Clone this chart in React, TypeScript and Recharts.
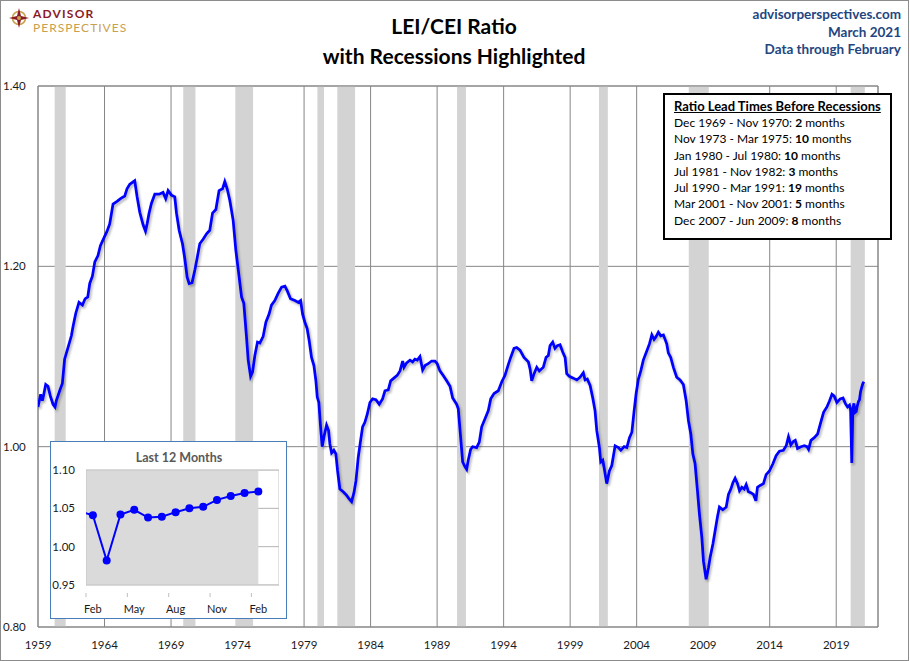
import { LineChart, Line, XAxis, YAxis, CartesianGrid, ReferenceArea } from "recharts"

const FONT = "Lato, 'Open Sans', sans-serif"
const NAVY = "#23467f"

// main chart axes
const yearTicks = [1959, 1964, 1969, 1974, 1979, 1984, 1989, 1994, 1999, 2004, 2009, 2014, 2019]
const yearDomain = [1959, 2022.14]
const ratioTicks = [0.8, 1.0, 1.2, 1.4]

// NBER recessions, [start, end] in decimal years
const recessions: [number, number][] = [
  [1960.25, 1961.083],
  [1969.917, 1970.833],
  [1973.833, 1975.167],
  [1980.0, 1980.5],
  [1981.5, 1982.833],
  [1990.5, 1991.167],
  [2001.167, 2001.833],
  [2007.917, 2009.417],
  [2020.083, 2021.15],
]

// LEI/CEI ratio, [decimal year, ratio]
const ratioSeries: [number, number][] = [
  [1959.0, 1.044], [1959.2, 1.058], [1959.33, 1.051], [1959.42, 1.057], [1959.58, 1.069],
  [1959.75, 1.067], [1959.93, 1.056], [1960.13, 1.047], [1960.28, 1.044], [1960.38, 1.051],
  [1960.63, 1.062], [1960.83, 1.07], [1961.0, 1.097], [1961.26, 1.11], [1961.51, 1.123],
  [1961.63, 1.133], [1961.84, 1.148], [1962.08, 1.16], [1962.34, 1.157], [1962.54, 1.164],
  [1962.74, 1.166], [1962.89, 1.181], [1963.09, 1.189], [1963.27, 1.205], [1963.51, 1.212],
  [1963.69, 1.223], [1963.94, 1.231], [1964.19, 1.239], [1964.39, 1.247], [1964.64, 1.269],
  [1964.94, 1.272], [1965.2, 1.275], [1965.52, 1.278], [1965.69, 1.286], [1965.9, 1.291],
  [1966.27, 1.295], [1966.45, 1.277], [1966.65, 1.26], [1966.9, 1.246], [1967.08, 1.239],
  [1967.2, 1.247], [1967.35, 1.259], [1967.53, 1.27], [1967.78, 1.28], [1968.1, 1.28],
  [1968.4, 1.282], [1968.6, 1.275], [1968.78, 1.284], [1969.03, 1.279], [1969.28, 1.277],
  [1969.41, 1.259], [1969.61, 1.24], [1969.86, 1.225], [1970.03, 1.209], [1970.21, 1.188],
  [1970.36, 1.181], [1970.58, 1.182], [1970.79, 1.196], [1970.96, 1.209], [1971.16, 1.225],
  [1971.41, 1.23], [1971.67, 1.236], [1971.91, 1.24], [1972.12, 1.259], [1972.37, 1.263],
  [1972.61, 1.284], [1972.87, 1.286], [1973.04, 1.294], [1973.22, 1.286], [1973.42, 1.273],
  [1973.67, 1.251], [1973.87, 1.218], [1974.12, 1.188], [1974.3, 1.166], [1974.47, 1.159],
  [1974.67, 1.122], [1974.8, 1.096], [1974.98, 1.078], [1975.13, 1.083], [1975.3, 1.101],
  [1975.5, 1.116], [1975.68, 1.115], [1975.92, 1.122], [1976.13, 1.138], [1976.37, 1.147],
  [1976.55, 1.157], [1976.8, 1.162], [1977.05, 1.17], [1977.31, 1.177], [1977.56, 1.178],
  [1977.73, 1.173], [1977.98, 1.164], [1978.31, 1.162], [1978.56, 1.16], [1978.74, 1.162],
  [1978.89, 1.147], [1979.06, 1.138], [1979.23, 1.131], [1979.38, 1.118], [1979.56, 1.099],
  [1979.74, 1.09], [1979.89, 1.073], [1979.99, 1.055], [1980.11, 1.049], [1980.24, 1.022],
  [1980.36, 1.0], [1980.51, 1.012], [1980.69, 1.024], [1980.84, 1.018], [1980.94, 1.003],
  [1981.07, 0.993], [1981.24, 0.996], [1981.39, 0.992], [1981.52, 0.973], [1981.69, 0.953],
  [1981.94, 0.95], [1982.2, 0.946], [1982.39, 0.942], [1982.57, 0.939], [1982.75, 0.949],
  [1982.9, 0.962], [1983.07, 0.988], [1983.25, 1.007], [1983.4, 1.022], [1983.57, 1.027],
  [1983.75, 1.036], [1983.95, 1.049], [1984.15, 1.053], [1984.4, 1.052], [1984.65, 1.047],
  [1984.9, 1.053], [1985.08, 1.062], [1985.33, 1.063], [1985.51, 1.073], [1985.75, 1.076],
  [1986.0, 1.079], [1986.21, 1.084], [1986.41, 1.095], [1986.51, 1.088], [1986.71, 1.093],
  [1986.96, 1.096], [1987.16, 1.094], [1987.33, 1.097], [1987.51, 1.096], [1987.71, 1.1],
  [1987.91, 1.085], [1988.09, 1.09], [1988.33, 1.092], [1988.59, 1.095], [1988.84, 1.095],
  [1989.01, 1.092], [1989.21, 1.084], [1989.46, 1.079], [1989.72, 1.073], [1989.97, 1.067],
  [1990.17, 1.054], [1990.47, 1.047], [1990.59, 1.042], [1990.77, 1.01], [1990.92, 0.983],
  [1991.09, 0.978], [1991.22, 0.975], [1991.34, 0.985], [1991.52, 0.997], [1991.67, 1.0],
  [1991.97, 0.999], [1992.17, 1.005], [1992.35, 1.022], [1992.6, 1.031], [1992.85, 1.04],
  [1993.03, 1.053], [1993.28, 1.059], [1993.6, 1.062], [1993.86, 1.072], [1994.1, 1.079],
  [1994.35, 1.091], [1994.53, 1.099], [1994.78, 1.109], [1994.98, 1.11], [1995.23, 1.107],
  [1995.53, 1.099], [1995.86, 1.094], [1995.99, 1.086], [1996.11, 1.073], [1996.29, 1.081],
  [1996.49, 1.088], [1996.68, 1.084], [1996.98, 1.088], [1997.19, 1.099], [1997.36, 1.101],
  [1997.49, 1.112], [1997.69, 1.116], [1997.86, 1.109], [1998.04, 1.112], [1998.24, 1.113],
  [1998.44, 1.105], [1998.62, 1.099], [1998.74, 1.081], [1998.94, 1.078], [1999.24, 1.076],
  [1999.5, 1.074], [1999.74, 1.077], [1999.99, 1.082], [2000.12, 1.074], [2000.29, 1.075],
  [2000.5, 1.068], [2000.7, 1.054], [2000.87, 1.04], [2001.0, 1.018], [2001.2, 0.999],
  [2001.3, 0.983], [2001.45, 0.985], [2001.55, 0.977], [2001.75, 0.959], [2001.95, 0.973],
  [2002.13, 0.979], [2002.38, 1.001], [2002.63, 0.999], [2002.81, 0.996], [2003.06, 1.0],
  [2003.26, 0.999], [2003.46, 1.01], [2003.64, 1.016], [2003.81, 1.04], [2003.96, 1.059],
  [2004.13, 1.075], [2004.31, 1.084], [2004.5, 1.096], [2004.76, 1.106], [2004.96, 1.114],
  [2005.14, 1.124], [2005.31, 1.119], [2005.46, 1.122], [2005.63, 1.127], [2005.81, 1.123],
  [2006.01, 1.124], [2006.26, 1.114], [2006.38, 1.104], [2006.56, 1.099], [2006.76, 1.088],
  [2007.01, 1.077], [2007.26, 1.074], [2007.51, 1.069], [2007.72, 1.051], [2007.89, 1.029],
  [2008.07, 1.014], [2008.22, 0.992], [2008.39, 0.981], [2008.57, 0.951], [2008.72, 0.925],
  [2008.9, 0.899], [2009.02, 0.873], [2009.22, 0.853], [2009.4, 0.866], [2009.52, 0.877],
  [2009.73, 0.892], [2009.9, 0.907], [2010.07, 0.922], [2010.22, 0.933], [2010.48, 0.93],
  [2010.73, 0.933], [2010.9, 0.947], [2011.08, 0.953], [2011.23, 0.96], [2011.4, 0.965],
  [2011.58, 0.959], [2011.73, 0.951], [2011.91, 0.955], [2012.08, 0.953], [2012.23, 0.958],
  [2012.4, 0.95], [2012.58, 0.949], [2012.78, 0.947], [2012.96, 0.94], [2013.08, 0.955],
  [2013.28, 0.957], [2013.53, 0.959], [2013.73, 0.969], [2013.98, 0.973], [2014.24, 0.981],
  [2014.48, 0.99], [2014.73, 0.995], [2015.03, 0.996], [2015.24, 1.001], [2015.41, 1.011],
  [2015.59, 1.002], [2015.79, 1.006], [2015.92, 1.007], [2016.09, 0.998], [2016.35, 1.0],
  [2016.6, 1.001], [2016.8, 1.0], [2016.92, 0.997], [2017.1, 1.007], [2017.35, 1.01],
  [2017.6, 1.014], [2017.8, 1.025], [2018.05, 1.038], [2018.3, 1.044], [2018.5, 1.051],
  [2018.68, 1.058], [2018.85, 1.056], [2019.05, 1.049], [2019.3, 1.053], [2019.51, 1.054],
  [2019.68, 1.048], [2019.85, 1.044], [2020.0, 1.046], [2020.08, 1.041], [2020.17, 0.982],
  [2020.25, 1.042], [2020.33, 1.048], [2020.42, 1.038], [2020.5, 1.039], [2020.58, 1.045],
  [2020.67, 1.05], [2020.75, 1.052], [2020.83, 1.061], [2020.92, 1.066], [2021.0, 1.07],
  [2021.08, 1.072],
]

// lead times box
const leadSpans = [
  "Dec 1969 - Nov 1970:",
  "Nov 1973 - Mar 1975:",
  "Jan 1980 - Jul 1980:",
  "Jul 1981 - Nov 1982:",
  "Jul 1990 - Mar 1991:",
  "Mar 2001 - Nov 2001:",
  "Dec 2007 - Jun 2009:",
]
const leadMonths = [2, 10, 10, 3, 19, 5, 8]

// inset: Jan 2020 .. Feb 2021
const insetMonths = ["Jan", "Feb", "Mar", "Apr", "May", "Jun", "Jul", "Aug", "Sep", "Oct", "Nov", "Dec", "Jan", "Feb"]
const insetValues = [1.046, 1.041, 0.982, 1.042, 1.048, 1.038, 1.039, 1.045, 1.05, 1.052, 1.061, 1.066, 1.07, 1.072]
const insetTicks = [1, 4, 7, 10, 13]
const insetValueTicks = [0.95, 1.0, 1.05, 1.1]

const mainData = ratioSeries.map(([t, v]) => ({ t, v }))
const insetData = insetValues.map((v, i) => ({ i, v }))

const RatioTick = ({ y, payload }: any) => (
  <text x={3} y={y} dy="0.36em" textAnchor="start" fontSize={11.5} fontFamily={FONT} fill="#1a1a1a">
    {Number(payload.value).toFixed(2)}
  </text>
)

const InsetMonthTick = ({ x, y, payload }: any) => (
  <g>
    <line x1={x - 6.9} x2={x - 6.9} y1={y} y2={y + 4} stroke="#bfbfbf" />
    <text x={x} y={y + 12} dy="0.71em" textAnchor="middle" fontSize={11} fontFamily={FONT} fill="#1a1a1a">
      {insetMonths[payload.value]}
    </text>
  </g>
)

function Logo() {
  return (
    <div style={{ position: "absolute", left: 9, top: 7 }}>
      <svg width={22} height={22} style={{ position: "absolute", left: 0, top: 0 }}>
        <circle cx={10} cy={11} r={6.5} fill="none" stroke="#c9a04c" strokeWidth={1.6} />
        <polygon points="10,1 12,9 20,11 12,13 10,21 8,13 0,11 8,9" fill="#8b1a24" />
        <circle cx={10} cy={11} r={2} fill="#c9a04c" />
      </svg>
      <div style={{ position: "absolute", left: 24, top: 0.8, fontFamily: FONT, fontWeight: 700, fontSize: 12, lineHeight: "12px", letterSpacing: 1.2, color: "#8b1a24", whiteSpace: "nowrap" }}>
        ADVISOR
      </div>
      <div style={{ position: "absolute", left: 24, top: 15.4, fontFamily: FONT, fontSize: 12, lineHeight: "12px", letterSpacing: 1, color: "#c9a04c", whiteSpace: "nowrap" }}>
        PERSPECTIVES
      </div>
    </div>
  )
}

export default function App() {
  return (
    <div style={{ position: "relative", width: 910, height: 661, background: "#fff", fontFamily: FONT }}>
      <style>{`body{margin:0} .ratio-line .recharts-line-curve{filter:url(#lineShadow)}`}</style>
      <svg width={0} height={0} style={{ position: "absolute" }}>
        <defs>
          <filter id="lineShadow" x="-5%" y="-5%" width="110%" height="110%">
            <feDropShadow dx={1.5} dy={2} stdDeviation={1} floodColor="#000" floodOpacity={0.3} />
          </filter>
        </defs>
      </svg>

      <div style={{ position: "absolute", left: 0, top: 0, width: 909, height: 661, border: "1px solid #8c8c8c", boxSizing: "border-box" }} />

      <Logo />

      <div style={{ position: "absolute", left: 0, top: 11, width: 908, textAlign: "center", fontWeight: 700, fontSize: 21, lineHeight: "29.5px", color: "#000" }}>
        <div>LEI/CEI Ratio</div>
        <div>with Recessions Highlighted</div>
      </div>

      <div style={{ position: "absolute", right: 9, top: 6, textAlign: "right", fontWeight: 700, fontSize: 13.5, lineHeight: "17.5px", color: NAVY }}>
        <div>advisorperspectives.com</div>
        <div>March 2021</div>
        <div>Data through February</div>
      </div>

      <div style={{ position: "absolute", left: 0, top: 0 }}>
        <LineChart width={910} height={661} data={mainData} margin={{ top: 86, right: 32, left: 0, bottom: 4 }}>
          {recessions.map(([a, b]) => (
            <ReferenceArea key={a} x1={a} x2={b} y1={0.8} y2={1.4} fill="#d3d3d3" fillOpacity={1} stroke="none" ifOverflow="hidden" />
          ))}
          <CartesianGrid stroke="#868686" strokeWidth={1} />
          <ReferenceArea x1={yearDomain[0]} x2={yearDomain[1]} y1={0.8} y2={1.4} fill="none" stroke="#868686" strokeWidth={1} />
          <XAxis
            dataKey="t"
            type="number"
            domain={yearDomain}
            ticks={yearTicks}
            allowDataOverflow
            height={30}
            tickLine={false}
            axisLine={false}
            tickSize={0}
            tickMargin={14}
            tick={{ fill: "#1a1a1a", fontSize: 11.5, fontFamily: FONT }}
          />
          <YAxis
            type="number"
            domain={[0.8, 1.4]}
            ticks={ratioTicks}
            allowDataOverflow
            width={38}
            tickLine={false}
            axisLine={false}
            tick={<RatioTick />}
          />
          <Line
            className="ratio-line"
            type="linear"
            dataKey="v"
            stroke="#0000ff"
            strokeWidth={2.75}
            dot={false}
            isAnimationActive={false}
          />
        </LineChart>
      </div>

      <div style={{ position: "absolute", left: 663, top: 93, width: 229, height: 147, border: "2px solid #000", boxSizing: "border-box", background: "#fff", padding: "3px 0 0 9px", color: "#000" }}>
        <div style={{ fontWeight: 700, fontSize: 13, lineHeight: "17px", textDecoration: "underline", whiteSpace: "nowrap" }}>
          Ratio Lead Times Before Recessions
        </div>
        {leadSpans.map((span, k) => (
          <div key={span} style={{ fontSize: 12, lineHeight: "16.3px", whiteSpace: "nowrap" }}>
            {span} <b>{leadMonths[k]}</b> months
          </div>
        ))}
      </div>

      <div style={{ position: "absolute", left: 50, top: 441, width: 237, height: 178, background: "#fff" }}>
        <div style={{ position: "absolute", left: 0, top: 9, width: 258, textAlign: "center", fontWeight: 700, fontSize: 12.5, color: "#595959" }}>
          Last 12 Months
        </div>
        <LineChart width={237} height={178} data={insetData} margin={{ top: 29, right: 8, left: 0, bottom: 4 }}>
          <ReferenceArea x1={0.5} x2={insetData.length - 1} y1={0.95} y2={1.1} fill="#dadada" fillOpacity={1} stroke="none" ifOverflow="hidden" />
          <CartesianGrid vertical={false} stroke="#b3b3b3" />
          <ReferenceArea x1={0.5} x2={14.5} y1={0.95} y2={1.1} fill="none" stroke="#c4c4c4" ifOverflow="hidden" />
          <XAxis
            dataKey="i"
            type="number"
            domain={[0.5, 14.5]}
            ticks={insetTicks}
            allowDataOverflow
            height={30}
            tickLine={false}
            axisLine={false}
            tick={<InsetMonthTick />}
          />
          <YAxis
            type="number"
            domain={[0.95, 1.1]}
            ticks={insetValueTicks}
            allowDataOverflow
            width={36}
            tickLine={false}
            axisLine={false}
            tickSize={0}
            tickMargin={11}
            tickFormatter={(v: number) => v.toFixed(2)}
            tick={{ fill: "#1a1a1a", fontSize: 11.5, fontFamily: FONT }}
          />
          <Line
            type="linear"
            dataKey="v"
            stroke="#0000ff"
            strokeWidth={2}
            dot={{ r: 4, fill: "#0000ff", stroke: "none" }}
            isAnimationActive={false}
          />
        </LineChart>
        <div style={{ position: "absolute", left: 0, top: 0, width: 237, height: 178, border: "1.5px solid #4a7ebb", boxSizing: "border-box", pointerEvents: "none" }} />
      </div>
    </div>
  )
}
